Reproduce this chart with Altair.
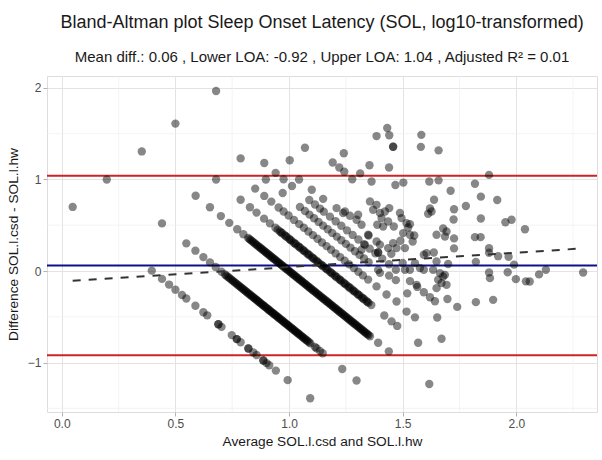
import altair as alt
import pandas as pd

# ---- data (x = mean, y = difference, log10 units) ----
band_csd_2_5 = [(0.396,0.004),(0.441,-0.086),(0.472,-0.148),(0.500,-0.204),(0.529,-0.262),(0.548,-0.300),
    (0.588,-0.380),(0.623,-0.450),(0.640,-0.484),(0.689,-0.582),(0.689,-0.582),(0.703,-0.610),(0.748,-0.700),
    (0.770,-0.744),(0.770,-0.744),(0.787,-0.778),(0.821,-0.846),(0.821,-0.846),(0.843,-0.890),(0.857,-0.918),
    (0.887,-0.978),(0.887,-0.978),(0.901,-1.006),(0.913,-1.030),(0.942,-1.088),(0.994,-1.192),(1.093,-1.390)]

band_csd_5 = [(0.548,0.302),(0.588,0.222),(0.623,0.152),(0.652,0.094),(0.677,0.044),(0.703,-0.008),
    (0.718,-0.038),(0.730,-0.062),(0.742,-0.086),(0.753,-0.108),(0.764,-0.130),(0.775,-0.152),(0.786,-0.174),
    (0.796,-0.194),(0.806,-0.214),(0.816,-0.234),(0.826,-0.254),(0.836,-0.274),(0.845,-0.292),(0.854,-0.310),
    (0.863,-0.328),(0.872,-0.346),(0.881,-0.364),(0.890,-0.382),(0.899,-0.400),(0.908,-0.418),(0.917,-0.436),
    (0.926,-0.454),(0.935,-0.472),(0.944,-0.490),(0.953,-0.508),(0.962,-0.526),(0.971,-0.544),(0.980,-0.562),
    (0.989,-0.580),(0.998,-0.598),(1.007,-0.616),(1.016,-0.634),(1.025,-0.652),(1.034,-0.670),(1.043,-0.688),
    (1.052,-0.706),(1.062,-0.726),(1.072,-0.746),(1.082,-0.766),(1.094,-0.790),(1.114,-0.830),(1.121,-0.844),
    (1.136,-0.874),(1.148,-0.898),(1.234,-1.070),(1.297,-1.196)]

band_csd_5_more = [(0.724,-0.050),(0.736,-0.074),(0.748,-0.098),(0.759,-0.120),(0.770,-0.142),(0.781,-0.164),
    (0.791,-0.184),(0.801,-0.204),(0.811,-0.224),(0.821,-0.244),(0.831,-0.264),(0.841,-0.284),(0.850,-0.302),
    (0.859,-0.320),(0.868,-0.338),(0.877,-0.356),(0.886,-0.374),(0.895,-0.392),(0.904,-0.410),(0.913,-0.428),
    (0.922,-0.446),(0.931,-0.464),(0.940,-0.482),(0.949,-0.500),(0.958,-0.518),(0.967,-0.536),(0.976,-0.554),
    (0.985,-0.572),(0.994,-0.590),(1.003,-0.608),(1.012,-0.626),(1.021,-0.644),(1.030,-0.662),(1.039,-0.680),
    (1.048,-0.698),(1.057,-0.716),(1.067,-0.736),(1.077,-0.756),(1.088,-0.778)]

band_csd_10 = [(0.589,0.822),(0.652,0.696),(0.700,0.600),(0.737,0.526),(0.772,0.456),(0.799,0.402),
    (0.820,0.360),(0.831,0.338),(0.842,0.316),(0.853,0.294),(0.864,0.272),(0.875,0.250),(0.885,0.230),
    (0.895,0.210),(0.905,0.190),(0.915,0.170),(0.925,0.150),(0.935,0.130),(0.945,0.110),(0.955,0.090),
    (0.965,0.070),(0.975,0.050),(0.985,0.030),(0.995,0.010),(1.005,-0.010),(1.015,-0.030),(1.025,-0.050),
    (1.035,-0.070),(1.045,-0.090),(1.055,-0.110),(1.065,-0.130),(1.075,-0.150),(1.085,-0.170),(1.095,-0.190),
    (1.105,-0.210),(1.115,-0.230),(1.125,-0.250),(1.135,-0.270),(1.145,-0.290),(1.155,-0.310),(1.165,-0.330),
    (1.175,-0.350),(1.185,-0.370),(1.195,-0.390),(1.205,-0.410),(1.215,-0.430),(1.225,-0.450),(1.235,-0.470),
    (1.245,-0.490),(1.255,-0.510),(1.265,-0.530),(1.275,-0.550),(1.285,-0.570),(1.295,-0.590),(1.305,-0.610),
    (1.315,-0.630),(1.325,-0.650),(1.335,-0.670),(1.345,-0.690),(1.356,-0.712),(1.392,-0.784),(1.439,-0.878),
    (1.617,-1.234)]

band_csd_10_more = [(0.826,0.348),(0.837,0.326),(0.848,0.304),(0.859,0.282),(0.870,0.260),(0.880,0.240),
    (0.890,0.220),(0.900,0.200),(0.910,0.180),(0.920,0.160),(0.930,0.140),(0.940,0.120),(0.950,0.100),
    (0.960,0.080),(0.970,0.060),(0.980,0.040),(0.990,0.020),(1.000,0.000),(1.010,-0.020),(1.020,-0.040),
    (1.030,-0.060),(1.040,-0.080),(1.050,-0.100),(1.060,-0.120),(1.070,-0.140),(1.080,-0.160),(1.090,-0.180),
    (1.100,-0.200),(1.110,-0.220),(1.120,-0.240),(1.130,-0.260),(1.140,-0.280),(1.150,-0.300),(1.160,-0.320),
    (1.170,-0.340),(1.180,-0.360),(1.190,-0.380),(1.200,-0.400),(1.210,-0.420),(1.220,-0.440),(1.230,-0.460),
    (1.240,-0.480),(1.250,-0.500),(1.260,-0.520),(1.270,-0.540),(1.280,-0.560),(1.290,-0.580),(1.300,-0.600),
    (1.310,-0.620),(1.320,-0.640),(1.330,-0.660),(1.340,-0.680),(1.350,-0.700)]

band_csd_15 = [(0.787,0.778),(0.828,0.696),(0.857,0.638),(0.890,0.572),(0.916,0.520),(0.940,0.472),
    (0.950,0.452),(0.960,0.432),(0.970,0.412),(0.980,0.392),(0.990,0.372),(1.000,0.352),(1.010,0.332),
    (1.020,0.312),(1.030,0.292),(1.040,0.272),(1.050,0.252),(1.060,0.232),(1.070,0.212),(1.080,0.192),
    (1.090,0.172),(1.100,0.152),(1.110,0.132),(1.120,0.112),(1.130,0.092),(1.140,0.072),(1.150,0.052),
    (1.160,0.032),(1.170,0.012),(1.180,-0.008),(1.190,-0.028),(1.200,-0.048),(1.210,-0.068),(1.220,-0.088),
    (1.230,-0.108),(1.240,-0.128),(1.250,-0.148),(1.260,-0.168),(1.270,-0.188),(1.280,-0.208),(1.290,-0.228),
    (1.300,-0.248),(1.310,-0.268),(1.320,-0.288),(1.330,-0.308),(1.340,-0.328),(1.350,-0.348),(1.362,-0.372),
    (1.419,-0.486),(1.451,-0.550),(1.476,-0.600),(1.568,-0.784)]

band_csd_15_more = [(0.965,0.422),(0.985,0.382),(1.005,0.342),(1.025,0.302),(1.045,0.262),(1.065,0.222),
    (1.085,0.182),(1.105,0.142),(1.125,0.102),(1.145,0.062),(1.165,0.022),(1.185,-0.018),(1.205,-0.058),
    (1.225,-0.098),(1.245,-0.138),(1.265,-0.178),(1.285,-0.218),(1.305,-0.258),(1.325,-0.298),(1.345,-0.338)]

band_csd_20 = [(0.851,0.900),(0.891,0.820),(0.922,0.758),(0.954,0.694),(0.976,0.650),(0.998,0.606),
    (1.022,0.558),(1.045,0.512),(1.065,0.472),(1.085,0.432),(1.105,0.392),(1.125,0.352),(1.145,0.312),
    (1.165,0.272),(1.185,0.232),(1.205,0.192),(1.225,0.152),(1.245,0.112),(1.265,0.072),(1.285,0.032),
    (1.305,-0.008),(1.325,-0.048),(1.348,-0.094),(1.385,-0.168),(1.429,-0.256),(1.473,-0.333),
    (1.517,-0.443),(1.554,-0.506),(1.671,-0.740)]

band_csd_25 = [(0.898,1.000),(0.972,0.852),(1.048,0.700),(1.070,0.656),(1.090,0.616),(1.110,0.576),
    (1.130,0.536),(1.150,0.496),(1.170,0.456),(1.190,0.416),(1.210,0.376),(1.230,0.336),(1.250,0.296),
    (1.270,0.256),(1.290,0.216),(1.310,0.176),(1.330,0.136),(1.350,0.096),(1.392,0.012),(1.520,-0.244),
    (1.652,-0.508)]

band_csd_30 = [(0.941,1.072),(0.976,1.002),(1.013,0.928),(1.089,0.776),(1.114,0.726),(1.136,0.682),
    (1.153,0.648),(1.180,0.594),(1.205,0.544),(1.230,0.494),(1.255,0.444),(1.280,0.394),(1.305,0.344),
    (1.330,0.294),(1.355,0.244),(1.380,0.194),(1.410,0.134),(1.440,0.074),(1.470,0.014),(1.532,-0.110),
    (1.564,-0.174),(1.593,-0.232),(1.620,-0.286),(1.642,-0.330)]

band_csd_35 = [(1.044,1.000),(1.100,0.888),(1.150,0.788),(1.209,0.687),(1.246,0.650),(1.268,0.603),
    (1.297,0.560),(1.319,0.505),(1.350,0.388),(1.400,0.288),(1.450,0.188),(1.500,0.088),(1.697,-0.306),
    (1.740,-0.392)]

mid_cluster = [(1.356,0.760),(1.385,0.723),(1.370,0.669),(1.400,0.633),(1.422,0.650),(1.441,0.687),
    (1.407,0.578),(1.388,0.505),(1.414,0.486),(1.436,0.541),(1.461,0.486),(1.488,0.633),(1.495,0.578),
    (1.517,0.523),(1.532,0.512),(1.524,0.475),(1.502,0.414),(1.532,0.396),(1.385,0.322),(1.392,0.202),
    (1.392,0.202),(1.436,0.250),(1.458,0.305),(1.348,0.396),(1.334,0.286),(1.319,0.232),(1.238,0.633),
    (1.304,0.614),(1.473,0.250),(1.490,0.330),(1.510,0.250),(1.532,0.013),(1.510,0.013),(1.561,-0.151),
    (1.686,-0.042),(1.693,-0.151),(1.400,-0.020),(1.440,-0.050),(1.470,-0.100)]

scattered = [(0.048,0.700),(0.198,1.000),(0.352,1.306),(0.441,0.520),(0.500,1.610),(0.679,1.966),
    (0.679,1.000),(0.787,1.230),(0.891,1.180),(1.003,1.210),(1.070,1.346),
    (1.241,1.286),(1.192,1.185),(1.221,1.131),(1.243,1.084),(1.278,1.002),(1.313,1.066),(1.354,1.155),
    (1.363,0.978),(1.432,1.562),(1.441,1.483),(1.385,1.474),(1.458,1.357),(1.458,1.357),(1.440,1.131),
    (1.468,0.939),(1.503,0.966),(1.582,1.487),(1.580,1.356),(1.658,1.318),(1.617,0.978),(1.658,0.990),
    (1.711,0.876),(1.638,0.778),(1.620,0.683),(1.627,0.650),(1.612,0.625),(1.678,0.464),(1.693,0.432),
    (1.649,0.396),(1.605,0.195),(1.637,0.202),(1.551,0.388),(1.544,0.322),(1.593,0.177),
    (1.554,0.086),(1.576,0.032),(1.593,0.013),(1.634,0.013),(1.649,0.104),
    (1.880,1.050),(1.818,0.953),(1.844,0.812),(1.916,0.776),(1.726,0.674),(1.778,0.710),(1.724,0.562),
    (1.844,0.574),(1.952,0.532),(1.979,0.560),(2.038,0.456),(1.686,0.377),(1.726,0.356),(1.726,0.247),
    (1.818,0.370),(1.843,0.370),(1.880,0.248),(1.880,0.200),(1.920,0.162),(1.966,0.155),(1.880,-0.016),
    (1.884,-0.078),(1.962,-0.014),(1.998,-0.089),(2.042,-0.113),(2.059,-0.115),(2.100,-0.037),(2.130,0.013),
    (2.294,-0.016),(1.700,0.077),(1.822,0.100),(1.990,0.070),(1.664,-0.023),(1.678,-0.060),(1.671,-0.132),
    (1.656,-0.096),(1.649,-0.187),(1.822,-0.340),(1.898,-0.315)]

groups = [band_csd_2_5, band_csd_5, band_csd_5_more, band_csd_10, band_csd_10_more, band_csd_15,
          band_csd_15_more, band_csd_20, band_csd_25, band_csd_30, band_csd_35, mid_cluster, scattered]

mean_diff = 0.06
lower_loa = -0.92
upper_loa = 1.04
fit_x = [0.048, 2.294]
fit_y = [-0.107, 0.247]

x_major = [0.0, 0.5, 1.0, 1.5, 2.0]
x_minor = [0.25, 0.75, 1.25, 1.75, 2.25]
y_major = [-1, 0, 1, 2]
y_minor = [-1.5, -0.5, 0.5, 1.5]

title_text = "Bland-Altman plot Sleep Onset Latency (SOL, log10-transformed)"
subtitle_text = "Mean diff.: 0.06 , Lower LOA: -0.92 , Upper LOA: 1.04 , Adjusted R\u00b2 = 0.01"
x_title = "Average SOL.l.csd and SOL.l.hw"
y_title = "Difference SOL.l.csd - SOL.l.hw"

# ---- tables ----
pts = pd.DataFrame([p for g in groups for p in g], columns=["avg", "diff"])
hl = pd.DataFrame({"y": [upper_loa, mean_diff, lower_loa], "kind": ["loa", "mean", "loa"]})
fit = pd.DataFrame({"x": fit_x, "y": fit_y})
gx = pd.DataFrame({"x": x_minor})
gy = pd.DataFrame({"y": y_minor})

FONT = "Liberation Sans"
xs = alt.Scale(domain=[-0.065, 2.355], nice=False, zero=False)
ys = alt.Scale(domain=[-1.54, 2.13], nice=False, zero=False)

xaxis = alt.Axis(values=x_major, format=".1f", grid=True, gridColor="#e3e3e3", gridWidth=1,
                 domain=False, ticks=True, tickColor="#b3b3b3", tickSize=4, labelFontSize=12,
                 labelColor="#4d4d4d", labelFont=FONT, labelPadding=2, title=x_title,
                 titleFont=FONT, titleFontSize=13.7, titleFontWeight="normal", titleColor="#1a1a1a",
                 titlePadding=5)
yaxis = alt.Axis(values=y_major, format="d", grid=True, gridColor="#e3e3e3", gridWidth=1,
                 domain=False, ticks=True, tickColor="#b3b3b3", tickSize=4, labelFontSize=12,
                 labelColor="#4d4d4d", labelFont=FONT, labelPadding=2, title=y_title,
                 titleFont=FONT, titleFontSize=13.7, titleFontWeight="normal", titleColor="#1a1a1a",
                 titlePadding=7)

minor_x = alt.Chart(gx).mark_rule(color="#efefef", strokeWidth=0.7).encode(
    x=alt.X("x:Q", scale=xs, axis=xaxis))
minor_y = alt.Chart(gy).mark_rule(color="#efefef", strokeWidth=0.7).encode(
    y=alt.Y("y:Q", scale=ys, axis=yaxis))

hlines = alt.Chart(hl).mark_rule(strokeWidth=2).encode(
    y=alt.Y("y:Q", scale=ys),
    color=alt.Color("kind:N", scale=alt.Scale(domain=["loa", "mean"], range=["#cc2424", "#10108a"]),
                    legend=None))

points = alt.Chart(pts).mark_circle(size=70, color="black", opacity=0.47).encode(
    x=alt.X("avg:Q", scale=xs), y=alt.Y("diff:Q", scale=ys))

fit_line = alt.Chart(fit).mark_line(color="#333333", strokeWidth=2, strokeDash=[8, 8]).encode(
    x=alt.X("x:Q", scale=xs), y=alt.Y("y:Q", scale=ys))

chart = alt.layer(minor_x, minor_y, hlines, points, fit_line).properties(
    width=550, height=336,
    title=alt.TitleParams(text=title_text, subtitle=subtitle_text, anchor="middle", frame="group",
                          font=FONT, fontSize=18, fontWeight="normal", color="#1a1a1a",
                          subtitleFont=FONT, subtitleFontSize=15, subtitleColor="#1a1a1a",
                          subtitlePadding=18, offset=11),
    autosize=alt.AutoSizeParams(type="none"),
    padding={"left": 47, "top": 76, "right": 5, "bottom": 48},
).configure_view(stroke="#b3b3b3", strokeWidth=1).configure(background="white")

chart.save("out.html", embed_options={"renderer": "svg", "actions": False})
